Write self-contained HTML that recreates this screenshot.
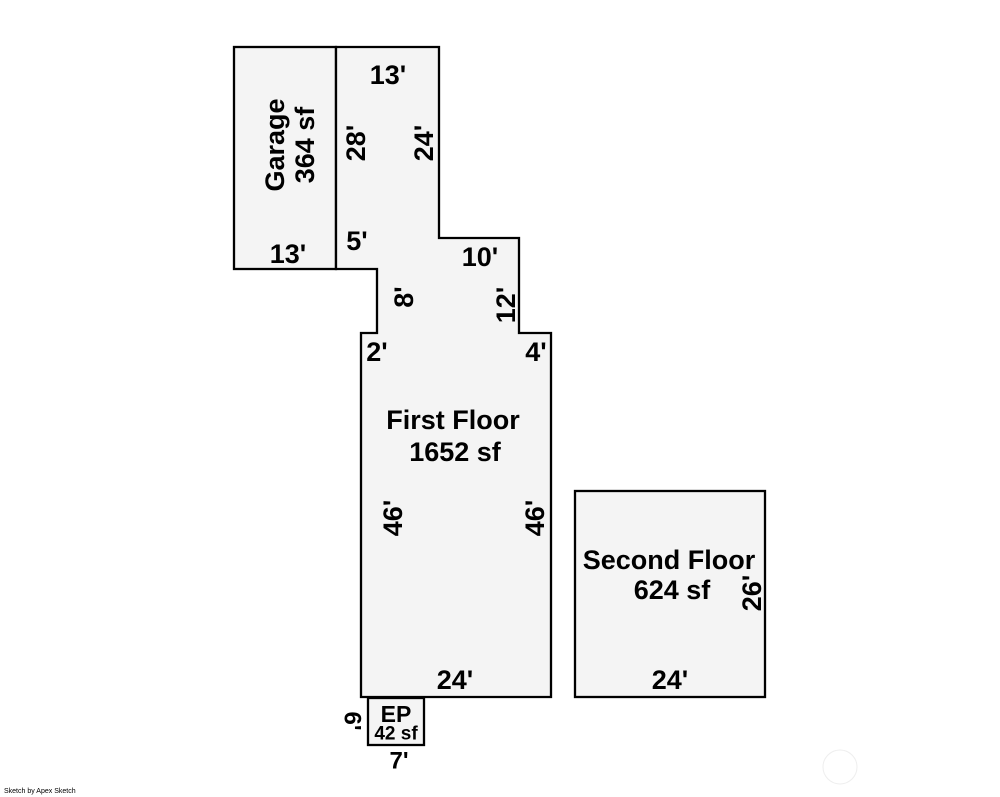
<!DOCTYPE html>
<html><head><meta charset="utf-8"><style>
html,body{margin:0;padding:0;background:#fff;}
svg{display:block;}
text{font-family:"Liberation Sans",Arial,sans-serif;font-weight:bold;fill:#000;}
</style></head><body>
<svg width="1000" height="797" viewBox="0 0 1000 797" xmlns="http://www.w3.org/2000/svg">
<g fill="#f4f4f4" stroke="#000" stroke-width="2.3">
<rect x="234" y="47" width="102" height="222"/>
<polygon points="336,47 439,47 439,238 519,238 519,333 551,333 551,697 361,697 361,333 377,333 377,269 336,269"/>
<rect x="575" y="491" width="190" height="206"/>
<rect x="368" y="698" width="56" height="47"/>
</g>
<circle cx="840" cy="767" r="17" fill="none" stroke="#eee" stroke-width="1"/>
<g font-size="27" text-anchor="middle" dominant-baseline="central">
<text x="388" y="75">13'</text>
<text transform="translate(275,145) rotate(-90)">Garage</text>
<text transform="translate(305,145) rotate(-90)">364 sf</text>
<text transform="translate(356,143) rotate(-90)">28'</text>
<text transform="translate(424,143) rotate(-90)">24'</text>
<text x="288" y="254">13'</text>
<text x="357" y="241">5'</text>
<text x="480" y="257">10'</text>
<text transform="translate(404,297) rotate(-90)">8'</text>
<text transform="translate(506,305) rotate(-90)">12'</text>
<text x="377" y="352">2'</text>
<text x="536" y="352">4'</text>
<text x="453" y="420">First Floor</text>
<text x="455" y="452">1652 sf</text>
<text transform="translate(393,518) rotate(-90)">46'</text>
<text transform="translate(535,518) rotate(-90)">46'</text>
<text x="455" y="680">24'</text>
<text x="669" y="560">Second Floor</text>
<text x="672" y="590">624 sf</text>
<text transform="translate(752,593) rotate(-90)">26'</text>
<text x="670" y="680">24'</text>
<text x="396" y="714" font-size="23">EP</text>
<text x="396" y="734" font-size="19">42 sf</text>
<text transform="translate(352,721) rotate(90)" font-size="24">6'</text>
<text x="399" y="761" font-size="24">7'</text>
</g>
<text x="4" y="793" font-size="7" style="font-weight:normal">Sketch by Apex Sketch</text>
</svg>
</body></html>
